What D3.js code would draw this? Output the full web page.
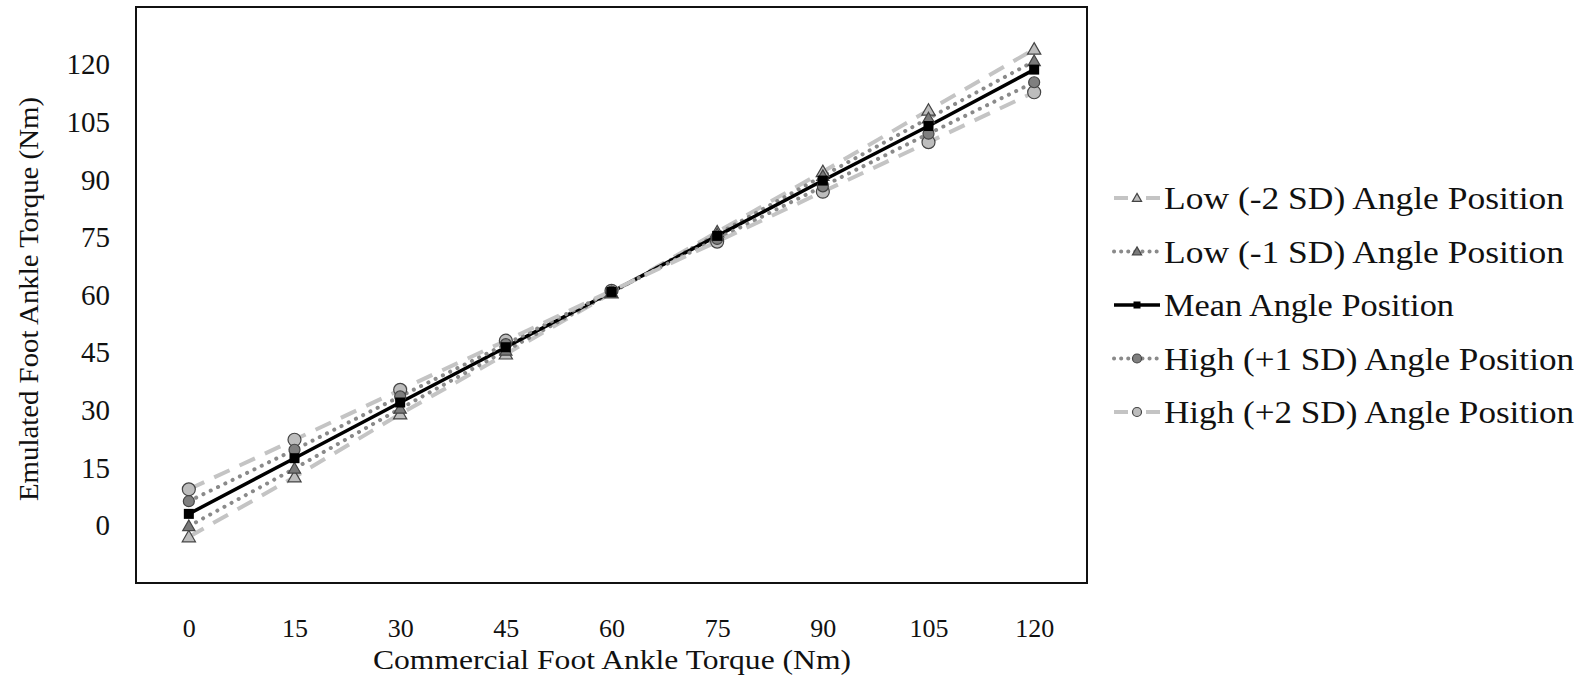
<!DOCTYPE html>
<html>
<head>
<meta charset="utf-8">
<script src="https://cdn.jsdelivr.net/npm/d3@7"></script>
<style>
  body { margin: 0; background: #fff; }
  text { font-family: "Liberation Serif", "Times New Roman", serif; fill: #111; }
</style>
</head>
<body>
<svg width="1585" height="680"></svg>
<script>
const xValues = [0, 15, 30, 45, 60, 75, 90, 105, 120];
const yTicks = [0, 15, 30, 45, 60, 75, 90, 105, 120];

const seriesNames = [
  "Low (-2 SD) Angle Position",
  "Low (-1 SD) Angle Position",
  "Mean Angle Position",
  "High (+1 SD) Angle Position",
  "High (+2 SD) Angle Position"
];
const low2 = [-3.0, 12.6, 29.0, 44.6, 60.5, 76.4, 92.1, 108.1, 124.0];
const low1 = [-0.2, 14.8, 30.4, 45.5, 60.6, 75.8, 91.0, 106.0, 120.9];
const mean = [3.0, 17.5, 32.0, 46.4, 60.8, 75.4, 89.8, 104.0, 118.7];
const high1 = [6.3, 19.7, 33.6, 47.2, 60.9, 74.6, 88.3, 102.0, 115.4];
const high2 = [9.4, 22.3, 35.3, 48.1, 61.1, 73.9, 86.9, 99.8, 112.8];

const svg = d3.select("svg");

const plot = { left: 136, right: 1087, top: 7, bottom: 583 };

const x = d3.scaleLinear().domain([-7.5, 127.5]).range([plot.left, plot.right]);
const y = d3.scaleLinear().domain([-15, 135]).range([plot.bottom, plot.top]);

// styles per series
const styles = [
  { vals: low2, stroke: "#c4c4c4", width: 4, dash: "17,11", cap: "butt", marker: "tri", fill: "#bdbdbd", ms: 13 },
  { vals: low1, stroke: "#8a8a8a", width: 4, dash: "0.1,8", cap: "round", marker: "tri", fill: "#7a7a7a", ms: 12 },
  { vals: mean, stroke: "#000", width: 3.5, dash: null, cap: "butt", marker: "sq", fill: "#000", ms: 10 },
  { vals: high1, stroke: "#8a8a8a", width: 4, dash: "0.1,8", cap: "round", marker: "circ", fill: "#7f7f7f", ms: 11 },
  { vals: high2, stroke: "#c4c4c4", width: 4, dash: "17,11", cap: "butt", marker: "circ", fill: "#bdbdbd", ms: 13 }
];

const line = d3.line()
  .x(d => x(d.x))
  .y(d => y(d.y));

function drawMarker(g, type, cx, cy, size, fill, stroke) {
  if (type === "tri") {
    g.append("path")
      .attr("d", d3.symbol(d3.symbolTriangle, size * size * 0.45)())
      .attr("transform", `translate(${cx},${cy + size * 0.08})`)
      .attr("fill", fill).attr("stroke", stroke).attr("stroke-width", 1.2);
  } else if (type === "sq") {
    g.append("rect")
      .attr("x", cx - size / 2).attr("y", cy - size / 2)
      .attr("width", size).attr("height", size)
      .attr("fill", fill);
  } else {
    g.append("circle")
      .attr("cx", cx).attr("cy", cy).attr("r", size / 2)
      .attr("fill", fill).attr("stroke", stroke).attr("stroke-width", 1.2);
  }
}

// lines
const lines = svg.append("g");
styles.forEach(s => {
  const pts = xValues.map((xv, i) => ({ x: xv, y: s.vals[i] }));
  lines.append("path")
    .datum(pts)
    .attr("fill", "none")
    .attr("stroke", s.stroke)
    .attr("stroke-width", s.width)
    .attr("stroke-linecap", s.cap)
    .attr("stroke-dasharray", s.dash)
    .attr("d", line);
});

// markers
const marks = svg.append("g");
[4, 3, 0, 1, 2].forEach(k => {
  const s = styles[k];
  xValues.forEach((xv, i) => {
    drawMarker(marks, s.marker, x(xv), y(s.vals[i]), s.ms, s.fill, "#444");
  });
});

// frame
svg.append("rect")
  .attr("x", plot.left).attr("y", plot.top)
  .attr("width", plot.right - plot.left).attr("height", plot.bottom - plot.top)
  .attr("fill", "none").attr("stroke", "#111").attr("stroke-width", 2);

// axes (labels only)
const xAxis = svg.append("g")
  .attr("transform", `translate(0,${plot.bottom + 54})`)
  .call(d3.axisBottom(x).tickValues(xValues).tickSize(0).tickPadding(0));
xAxis.select(".domain").remove();
xAxis.selectAll("text").attr("font-size", 26).attr("dy", 0);

const yAxis = svg.append("g")
  .attr("transform", `translate(${plot.left - 26},0)`)
  .call(d3.axisLeft(y).tickValues(yTicks).tickSize(0).tickPadding(0));
yAxis.select(".domain").remove();
yAxis.selectAll("text").attr("font-size", 29);
svg.selectAll(".tick text").style("font-family", "'Liberation Serif', serif").attr("fill", "#111");

svg.append("text")
  .attr("x", 612)
  .attr("y", 669)
  .attr("text-anchor", "middle")
  .attr("font-size", 27)
  .attr("textLength", 478)
  .attr("lengthAdjust", "spacingAndGlyphs")
  .text("Commercial Foot Ankle Torque (Nm)");

svg.append("text")
  .attr("transform", `translate(38,${(plot.top + plot.bottom) / 2 + 4}) rotate(-90)`)
  .attr("text-anchor", "middle")
  .attr("font-size", 28)
  .attr("textLength", 404)
  .attr("lengthAdjust", "spacingAndGlyphs")
  .text("Emulated Foot Ankle Torque (Nm)");

// legend
const legendWidths = [400, 400, 290, 410, 410];
const legend = svg.append("g").attr("transform", "translate(1114,198)");
styles.forEach((s, i) => {
  const g = legend.append("g").attr("transform", `translate(0,${i * 53.5})`);
  g.append("line")
    .attr("x1", 0).attr("x2", 46).attr("y1", 0).attr("y2", 0)
    .attr("stroke", s.stroke)
    .attr("stroke-width", s.width)
    .attr("stroke-linecap", s.cap)
    .attr("stroke-dasharray", s.dash ? (s.cap === "round" ? "0.1,7" : "14,18") : null);
  drawMarker(g, s.marker, 23, 0, s.marker === "sq" ? 7 : 9, s.fill, "#444");
  g.append("text")
    .attr("x", 50).attr("y", 0).attr("dy", "0.35em")
    .attr("font-size", 32)
    .attr("textLength", legendWidths[i])
    .attr("lengthAdjust", "spacingAndGlyphs")
    .text(seriesNames[i]);
});
</script>
</body>
</html>
